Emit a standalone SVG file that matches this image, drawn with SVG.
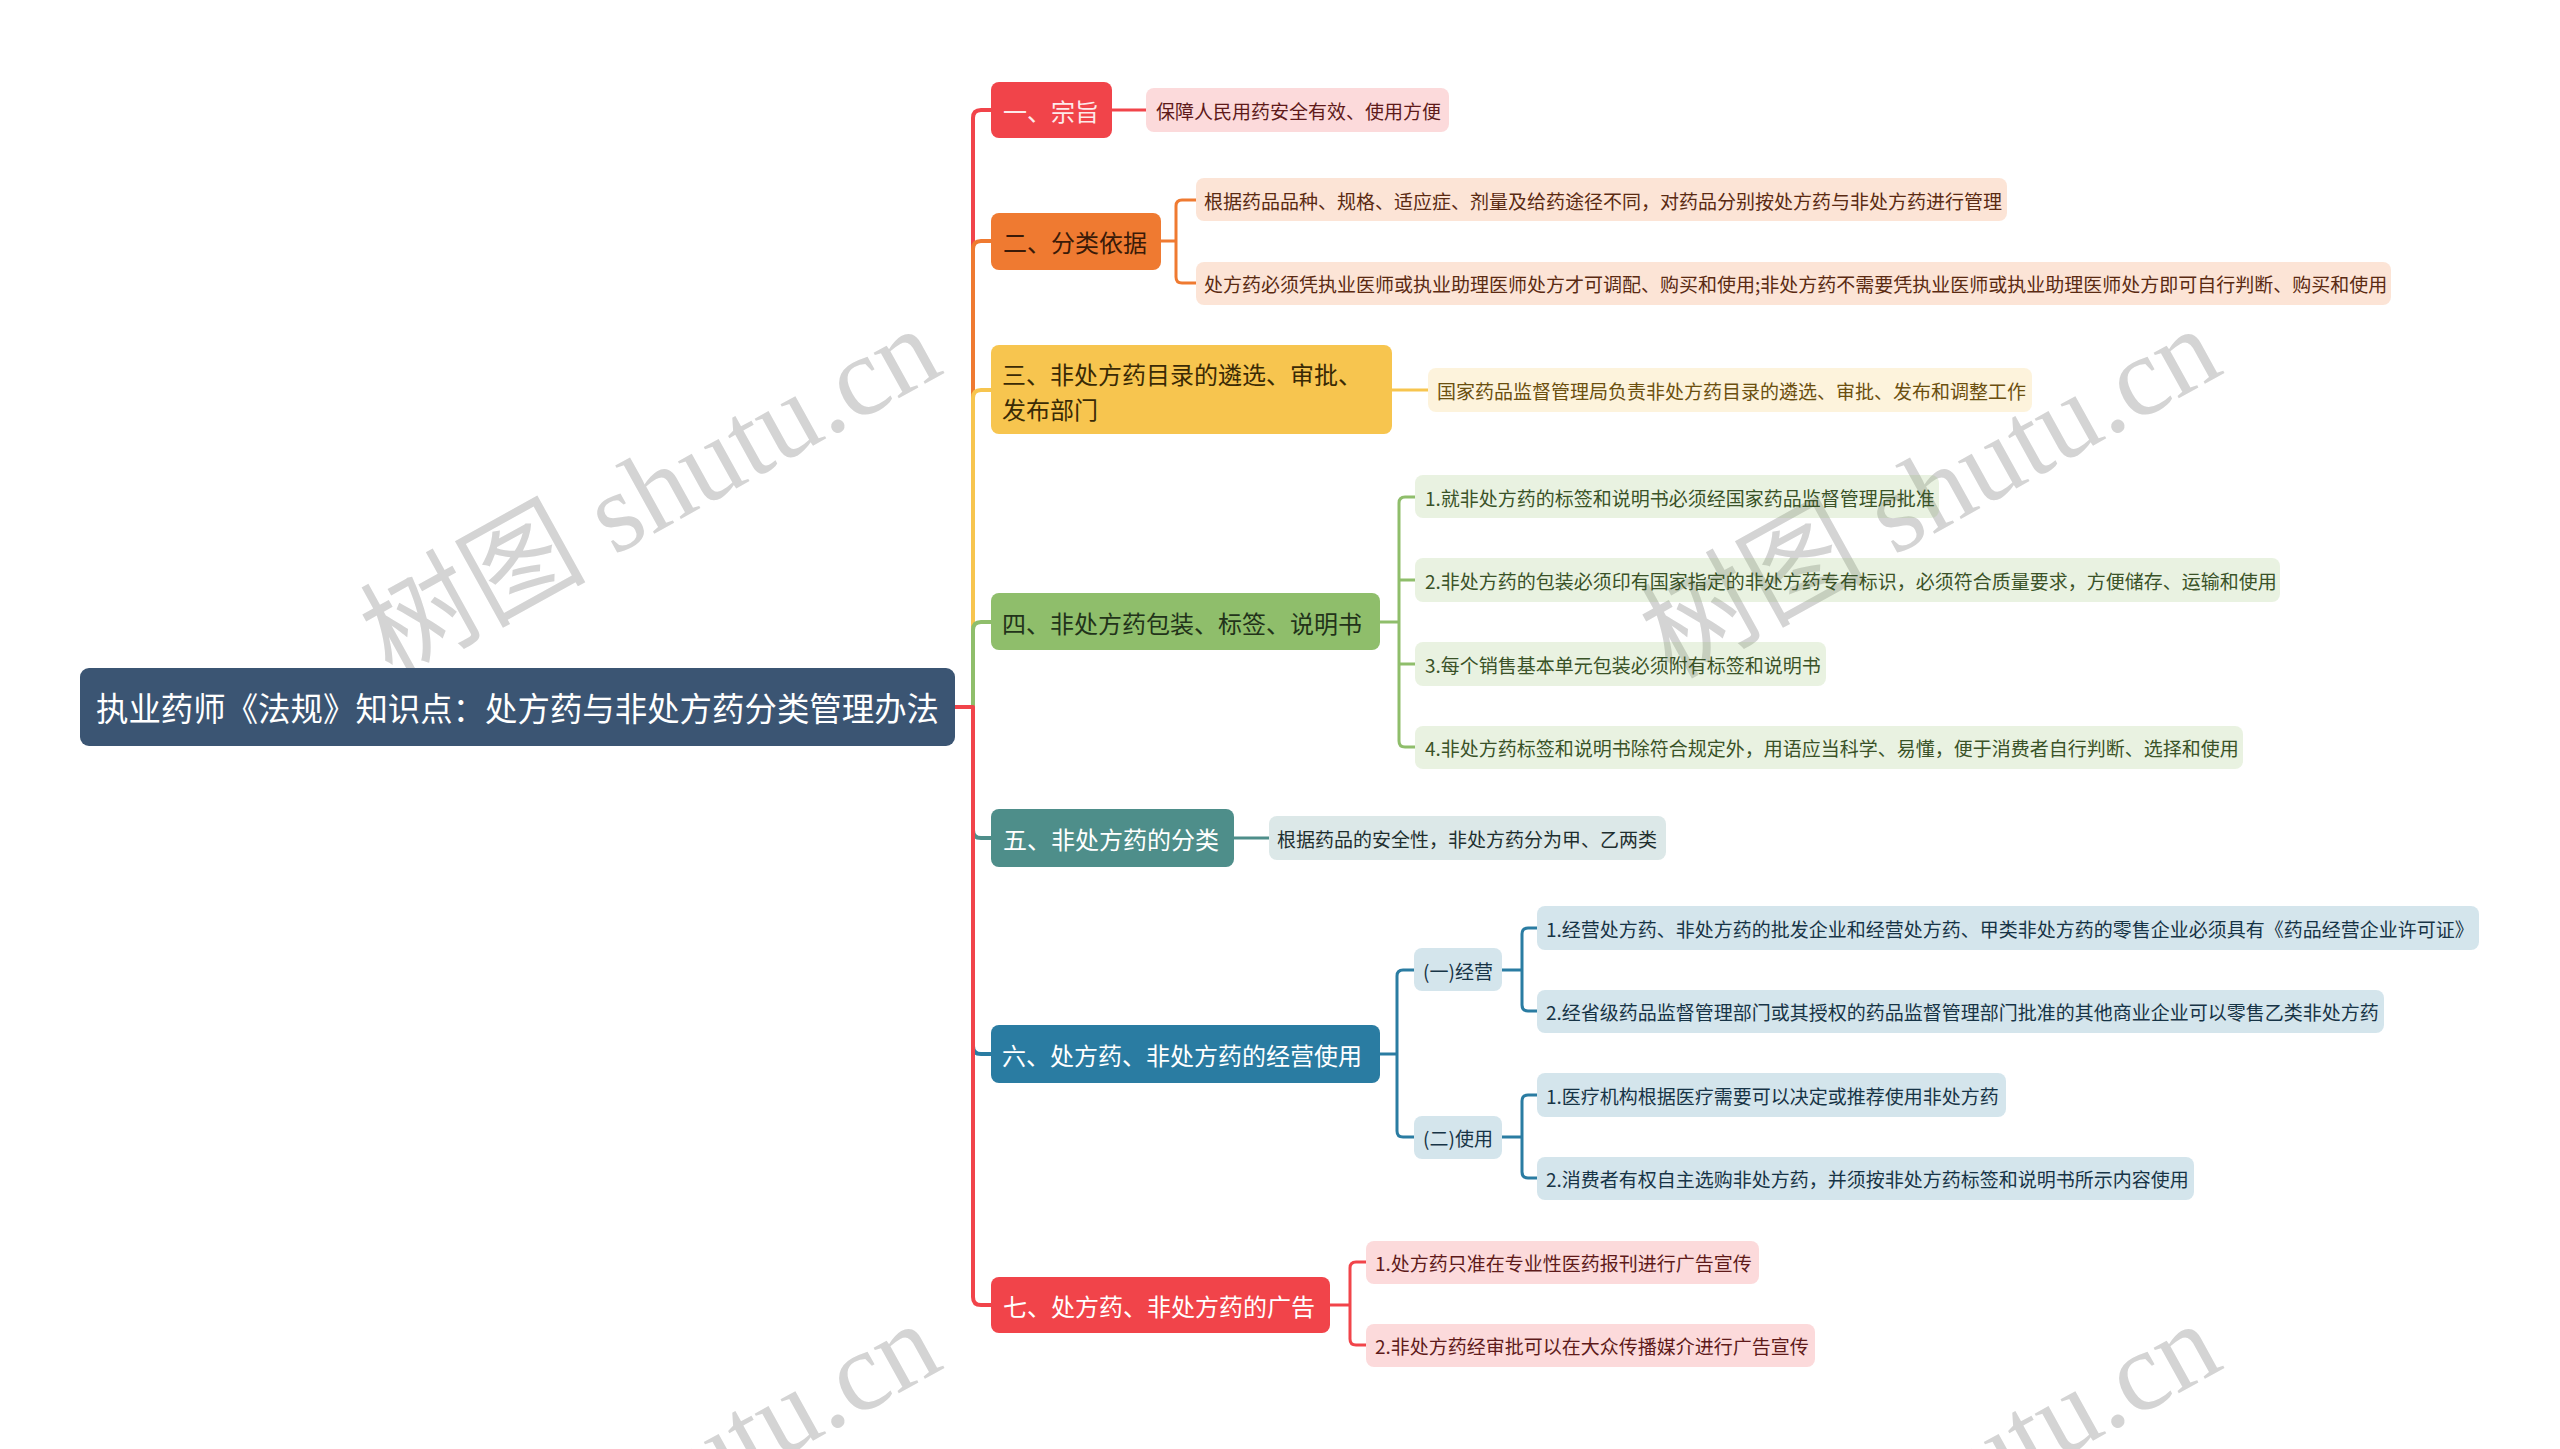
<svg xmlns="http://www.w3.org/2000/svg" width="2560" height="1449" viewBox="0 0 2560 1449">
<style>
text{font-family:"Noto Sans CJK SC","Liberation Sans",sans-serif;}
.wm{font-family:"Liberation Serif","Noto Sans CJK SC",serif;font-size:113px;fill:#d4d4d4;}
.root{font-size:33px;fill:#ffffff;}
.br{font-size:24px;}
.lf{font-size:19px;}
.c{fill:none;stroke-linecap:butt;stroke-linejoin:round;}
.main{stroke-width:4;}
.sub{stroke-width:3;}
.leaf{fill-opacity:0.2;}
</style>
<rect x="0" y="0" width="2560" height="1449" fill="#ffffff"/>
<g id="watermarks">
<text class="wm" text-anchor="end" transform="translate(946,372) rotate(-29)">树图 shutu.cn</text>
<text class="wm" text-anchor="end" transform="translate(2226,372) rotate(-29)">树图 shutu.cn</text>
<text class="wm" text-anchor="end" transform="translate(946,1367) rotate(-29)">树图 shutu.cn</text>
<text class="wm" text-anchor="end" transform="translate(2226,1367) rotate(-29)">树图 shutu.cn</text>
</g>
<g id="connectors">
<path class="c main" stroke="#f1444a" d="M955,707 H973 V118 Q973,110 981,110 H991"/>
<path class="c main" stroke="#ef7a31" d="M973,707 V249 Q973,241 981,241 H991"/>
<path class="c main" stroke="#f7c54f" d="M973,707 V398 Q973,390 981,390 H991"/>
<path class="c main" stroke="#8fbe6b" d="M973,707 V630 Q973,622 981,622 H991"/>
<path class="c main" stroke="#4e8e8a" d="M973,707 V830 Q973,838 981,838 H991"/>
<path class="c main" stroke="#2a7ca2" d="M973,707 V1046 Q973,1054 981,1054 H991"/>
<path class="c main" stroke="#f1444a" d="M955,707 H973 V1297 Q973,1305 981,1305 H991"/>
<path class="c sub" stroke="#f1444a" d="M1112,110 H1146"/>
<path class="c sub" stroke="#ef7a31" d="M1161,241 H1176 M1196,200 H1182 Q1176,200 1176,206 V277 Q1176,283 1182,283 H1196"/>
<path class="c sub" stroke="#f7c54f" d="M1392,390 H1428"/>
<path class="c sub" stroke="#8fbe6b" d="M1380,622 H1399 M1415,497 H1405 Q1399,497 1399,503 V741 Q1399,747 1405,747 H1415 M1399,580 H1415 M1399,664 H1415"/>
<path class="c sub" stroke="#4e8e8a" d="M1234,838 H1269"/>
<path class="c sub" stroke="#2a7ca2" d="M1380,1054 H1397 M1414,970 H1403 Q1397,970 1397,976 V1131 Q1397,1137 1403,1137 H1414 M1502,970 H1522 M1537,928 H1528 Q1522,928 1522,934 V1005 Q1522,1011 1528,1011 H1537 M1502,1137 H1522 M1537,1095 H1528 Q1522,1095 1522,1101 V1172 Q1522,1178 1528,1178 H1537"/>
<path class="c sub" stroke="#f1444a" d="M1330,1305 H1350 M1366,1262 H1356 Q1350,1262 1350,1268 V1339 Q1350,1345 1356,1345 H1366"/>
</g>
<g id="root">
<rect x="80" y="668" width="875" height="78" rx="9" fill="#3b5573"/>
<text class="root" x="96" y="707" dominant-baseline="central" textLength="843" lengthAdjust="spacingAndGlyphs">执业药师《法规》知识点：处方药与非处方药分类管理办法</text>
</g>
<g id="b1">
<rect x="991" y="82" width="121" height="56" rx="8" fill="#f1444a"/>
<text class="br" x="1003" y="110" dominant-baseline="central" fill="#fdeaea">一、宗旨</text>
</g>
<g id="b1-1">
<rect class="leaf" x="1146" y="88" width="303" height="44" rx="8" fill="#f1444a"/>
<text class="lf" x="1156" y="110" dominant-baseline="central" fill="#5e1a1a">保障人民用药安全有效、使用方便</text>
</g>
<g id="b2">
<rect x="991" y="213" width="170" height="57" rx="8" fill="#ef7a31"/>
<text class="br" x="1003" y="241" dominant-baseline="central" fill="#3a1a08">二、分类依据</text>
</g>
<g id="b2-1">
<rect class="leaf" x="1196" y="178" width="811" height="43" rx="8" fill="#ef7a31"/>
<text class="lf" x="1204" y="200" dominant-baseline="central" fill="#5a2a12">根据药品品种、规格、适应症、剂量及给药途径不同，对药品分别按处方药与非处方药进行管理</text>
</g>
<g id="b2-2">
<rect class="leaf" x="1196" y="262" width="1195" height="43" rx="8" fill="#ef7a31"/>
<text class="lf" x="1204" y="283" dominant-baseline="central" fill="#5a2a12">处方药必须凭执业医师或执业助理医师处方才可调配、购买和使用;非处方药不需要凭执业医师或执业助理医师处方即可自行判断、购买和使用</text>
</g>
<g id="b3">
<rect x="991" y="345" width="401" height="89" rx="8" fill="#f7c54f"/>
<text class="br" x="1002" y="373" dominant-baseline="central" fill="#3a2a05">三、非处方药目录的遴选、审批、</text>
<text class="br" x="1002" y="408" dominant-baseline="central" fill="#3a2a05">发布部门</text>
</g>
<g id="b3-1">
<rect class="leaf" x="1428" y="368" width="604" height="44" rx="8" fill="#f7c54f"/>
<text class="lf" x="1437" y="390" dominant-baseline="central" fill="#6b4f0f">国家药品监督管理局负责非处方药目录的遴选、审批、发布和调整工作</text>
</g>
<g id="b4">
<rect x="991" y="593" width="389" height="57" rx="8" fill="#8fbe6b"/>
<text class="br" x="1002" y="622" dominant-baseline="central" fill="#22331a">四、非处方药包装、标签、说明书</text>
</g>
<g id="b4-1">
<rect class="leaf" x="1415" y="475" width="524" height="43" rx="8" fill="#8fbe6b"/>
<text class="lf" x="1425" y="497" dominant-baseline="central" fill="#3a5228">1.就非处方药的标签和说明书必须经国家药品监督管理局批准</text>
</g>
<g id="b4-2">
<rect class="leaf" x="1415" y="558" width="865" height="44" rx="8" fill="#8fbe6b"/>
<text class="lf" x="1425" y="580" dominant-baseline="central" fill="#3a5228">2.非处方药的包装必须印有国家指定的非处方药专有标识，必须符合质量要求，方便储存、运输和使用</text>
</g>
<g id="b4-3">
<rect class="leaf" x="1415" y="642" width="411" height="44" rx="8" fill="#8fbe6b"/>
<text class="lf" x="1425" y="664" dominant-baseline="central" fill="#3a5228">3.每个销售基本单元包装必须附有标签和说明书</text>
</g>
<g id="b4-4">
<rect class="leaf" x="1415" y="726" width="828" height="43" rx="8" fill="#8fbe6b"/>
<text class="lf" x="1425" y="747" dominant-baseline="central" fill="#3a5228">4.非处方药标签和说明书除符合规定外，用语应当科学、易懂，便于消费者自行判断、选择和使用</text>
</g>
<g id="b5">
<rect x="991" y="809" width="243" height="58" rx="8" fill="#4e8e8a"/>
<text class="br" x="1003" y="838" dominant-baseline="central" fill="#ffffff">五、非处方药的分类</text>
</g>
<g id="b5-1">
<rect class="leaf" x="1269" y="816" width="397" height="44" rx="8" fill="#4e8e8a"/>
<text class="lf" x="1277" y="838" dominant-baseline="central" fill="#1f2f2f">根据药品的安全性，非处方药分为甲、乙两类</text>
</g>
<g id="b6">
<rect x="991" y="1025" width="389" height="58" rx="8" fill="#2a7ca2"/>
<text class="br" x="1002" y="1054" dominant-baseline="central" fill="#ffffff">六、处方药、非处方药的经营使用</text>
</g>
<g id="b6-1">
<rect class="leaf" x="1414" y="948" width="88" height="43" rx="8" fill="#2a7ca2"/>
<text class="lf" x="1458" y="970" text-anchor="middle" dominant-baseline="central" fill="#173446">(一)经营</text>
</g>
<g id="b6-1-1">
<rect class="leaf" x="1537" y="906" width="942" height="44" rx="8" fill="#2a7ca2"/>
<text class="lf" x="1546" y="928" dominant-baseline="central" fill="#173446">1.经营处方药、非处方药的批发企业和经营处方药、甲类非处方药的零售企业必须具有《药品经营企业许可证》</text>
</g>
<g id="b6-1-2">
<rect class="leaf" x="1537" y="990" width="847" height="43" rx="8" fill="#2a7ca2"/>
<text class="lf" x="1546" y="1011" dominant-baseline="central" fill="#173446">2.经省级药品监督管理部门或其授权的药品监督管理部门批准的其他商业企业可以零售乙类非处方药</text>
</g>
<g id="b6-2">
<rect class="leaf" x="1414" y="1116" width="88" height="43" rx="8" fill="#2a7ca2"/>
<text class="lf" x="1458" y="1137" text-anchor="middle" dominant-baseline="central" fill="#173446">(二)使用</text>
</g>
<g id="b6-2-1">
<rect class="leaf" x="1537" y="1073" width="469" height="44" rx="8" fill="#2a7ca2"/>
<text class="lf" x="1546" y="1095" dominant-baseline="central" fill="#173446">1.医疗机构根据医疗需要可以决定或推荐使用非处方药</text>
</g>
<g id="b6-2-2">
<rect class="leaf" x="1537" y="1157" width="657" height="43" rx="8" fill="#2a7ca2"/>
<text class="lf" x="1546" y="1178" dominant-baseline="central" fill="#173446">2.消费者有权自主选购非处方药，并须按非处方药标签和说明书所示内容使用</text>
</g>
<g id="b7">
<rect x="991" y="1277" width="339" height="56" rx="8" fill="#f1444a"/>
<text class="br" x="1003" y="1305" dominant-baseline="central" fill="#ffffff">七、处方药、非处方药的广告</text>
</g>
<g id="b7-1">
<rect class="leaf" x="1366" y="1241" width="393" height="43" rx="8" fill="#f1444a"/>
<text class="lf" x="1375" y="1262" dominant-baseline="central" fill="#5e1a1a">1.处方药只准在专业性医药报刊进行广告宣传</text>
</g>
<g id="b7-2">
<rect class="leaf" x="1366" y="1324" width="449" height="43" rx="8" fill="#f1444a"/>
<text class="lf" x="1375" y="1345" dominant-baseline="central" fill="#5e1a1a">2.非处方药经审批可以在大众传播媒介进行广告宣传</text>
</g>
</svg>
